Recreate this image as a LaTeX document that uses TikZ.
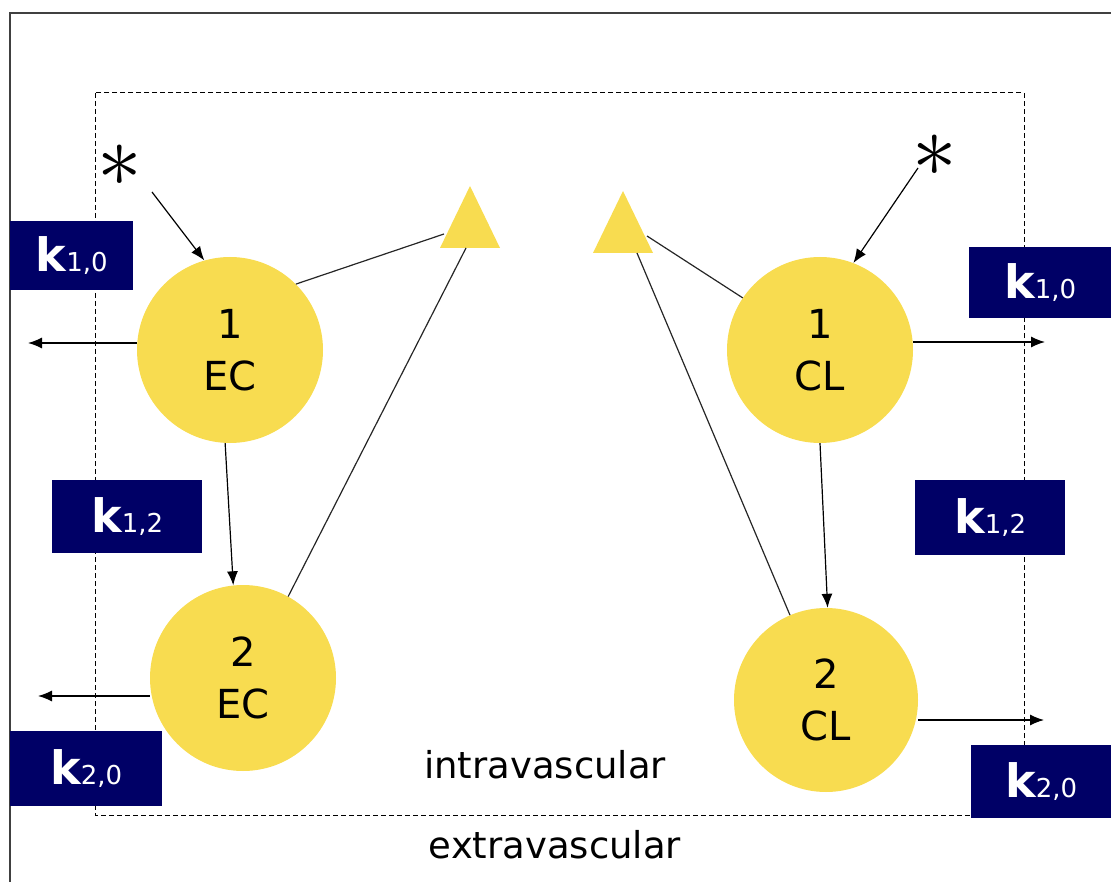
\documentclass[tikz,border=0pt]{standalone}
\usepackage{fontspec}
\setmainfont{DejaVu Sans}
\usetikzlibrary{arrows.meta}
\definecolor{sun}{RGB}{248,220,80}
\definecolor{navyk}{RGB}{0,0,102}
\tikzset{
  circ/.style={circle, fill=sun, minimum size=186pt, inner sep=0pt, align=center,
    font=\fontsize{40}{52}\selectfont},
  kbox/.style={fill=navyk, text=white, inner sep=0pt, anchor=north west},
  tri/.style={fill=sun},
  arr/.style={-{Latex[length=14pt,width=11pt]}, line width=1.2pt, black},
  link/.style={line width=1.2pt, black!85},
  vas/.style={font=\fontsize{37}{40}\selectfont},
  astr/.style={inner sep=0pt, font=\fontsize{20}{20}\selectfont},
}
\newcommand{\kk}[2]{{\fontsize{46}{46}\selectfont\bfseries k}{\fontsize{26}{26}\selectfont #1,#2}}
\begin{document}
\begin{tikzpicture}[x=1pt,y=-1pt]
\useasboundingbox (0,0) rectangle (1111,882);
% outer frame
\draw[line width=1.5pt, black!75] (10,882) -- (10,13) -- (1111,13);
% dashed region
\draw[dashed, dash pattern=on 5pt off 3pt, line width=1pt] (95,93) rectangle (1024,815);

% circles
\node[circ] (c1ec) at (230,350) {1\\EC};
\node[circ] (c2ec) at (243,678) {2\\EC};
\node[circ] (c1cl) at (820,350) {1\\CL};
\node[circ, minimum size=184pt] (c2cl) at (826,700) {2\\CL};

% triangles
\fill[tri] (470,186) -- (500,248) -- (440,248) -- cycle;
\fill[tri] (623,191) -- (653,253) -- (593,253) -- cycle;
\coordinate (tLa) at (444,234);
\coordinate (tLb) at (466,248);
\coordinate (tRa) at (647,236);
\coordinate (tRb) at (637,253);

% links to triangles
\draw[link] (c1ec.45) -- (tLa);
\draw[link] (c2ec.61) -- (tLb);
\draw[link] (c1cl.146) -- (tRa);
\draw[link] (c2cl.113) -- (tRb);

% transfer arrows
\draw[arr] (c1ec.267) -- (c2ec.96);
\draw[arr] (c1cl.270) -- (c2cl.89);

% elimination arrows
\coordinate (oL1) at (28,343);
\coordinate (oL2) at (38,696);
\coordinate (oR1) at (1045,342);
\coordinate (oR2) at (1044,720);
\draw[arr] (oL1 -| c1ec.west) -- (oL1);
\draw[arr] (oL2 -| c2ec.west) -- (oL2);
\draw[arr] (oR1 -| c1cl.east) -- (oR1);
\draw[arr] (oR2 -| c2cl.east) -- (oR2);

% asterisks (dosing)
\node[astr] (sL) at (120,166) {\scalebox{4.3}{$\ast$}};
\node[astr] (sR) at (935,156) {\scalebox{4.3}{$\ast$}};
\coordinate (sLe) at (152,192);
\coordinate (sRe) at (918,168);
\draw[arr] (sLe) -- (c1ec.106);
\draw[arr] (sRe) -- (c1cl.69);

% rate constant boxes
\node[kbox, minimum width=123pt, minimum height=69pt] (k10L) at (10,221) {\kk{1}{0}};
\node[kbox, minimum width=150pt, minimum height=73pt] (k12L) at (52,480) {\kk{1}{2}};
\node[kbox, minimum width=152pt, minimum height=75pt] (k20L) at (10,731) {\kk{2}{0}};
\node[kbox, minimum width=142pt, minimum height=71pt] (k10R) at (969,247) {\kk{1}{0}};
\node[kbox, minimum width=150pt, minimum height=75pt] (k12R) at (915,480) {\kk{1}{2}};
\node[kbox, minimum width=140pt, minimum height=73pt] (k20R) at (971,745) {\kk{2}{0}};

% labels
\node[vas] (intra) at (545,765) {intravascular};
\node[vas] (extra) at (555,845) {extravascular};
\end{tikzpicture}
\end{document}
